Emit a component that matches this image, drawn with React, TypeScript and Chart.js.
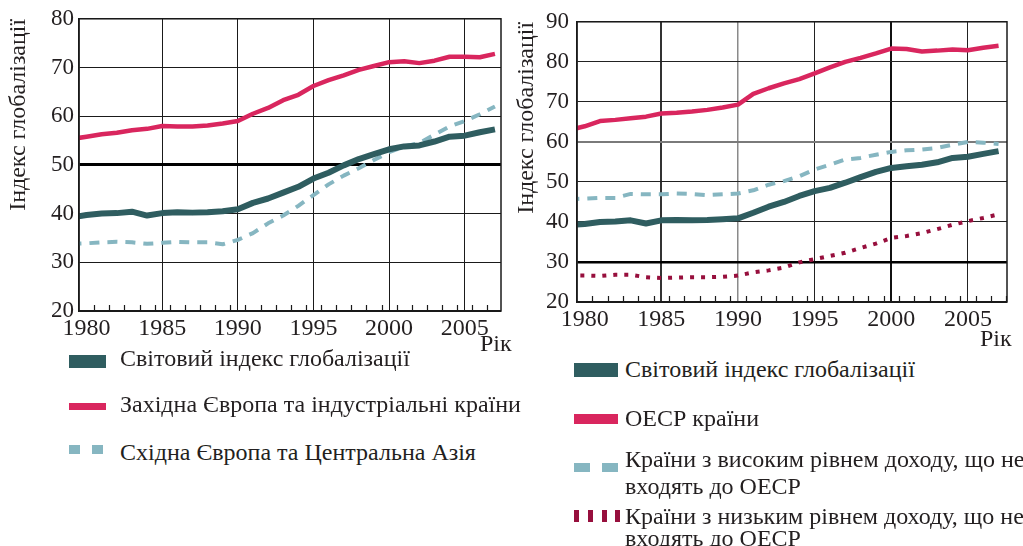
import React, { useEffect, useRef } from 'react';
import { Chart, registerables } from 'chart.js';

Chart.register(...registerables);

// ---------- data ----------
const YEARS = [
  1979, 1980, 1981, 1982, 1983, 1984, 1985, 1986, 1987, 1988, 1989, 1990, 1991, 1992, 1993,
  1994, 1995, 1996, 1997, 1998, 1999, 2000, 2001, 2002, 2003, 2004, 2005, 2006, 2007,
];

// Left panel
const LEFT_WORLD = [
  39.2, 39.7, 40.0, 40.1, 40.4, 39.6, 40.1, 40.3, 40.2, 40.3, 40.5, 40.9, 42.2, 43.1, 44.3,
  45.5, 47.2, 48.4, 49.9, 51.2, 52.2, 53.2, 53.8, 54.0, 54.8, 55.8, 56.0, 56.7, 57.3,
];
const LEFT_WEST = [
  55.3, 55.8, 56.3, 56.6, 57.1, 57.4, 58.0, 57.9, 57.9, 58.1, 58.5, 59.0, 60.5, 61.7, 63.3,
  64.4, 66.2, 67.4, 68.4, 69.5, 70.3, 71.1, 71.3, 70.9, 71.4, 72.2, 72.2, 72.1, 72.8,
];
const LEFT_EAST = [
  33.8, 33.9, 34.1, 34.2, 34.1, 33.8, 34.0, 34.2, 34.1, 34.1, 33.7, 34.6, 36.0, 38.0, 39.6,
  41.6, 43.8, 46.0, 47.8, 49.3, 51.0, 52.6, 53.8, 54.5, 56.2, 57.9, 59.0, 60.4, 62.0,
];

// Right panel
const RIGHT_WORLD = [
  39.2, 39.5, 40.0, 40.1, 40.4, 39.6, 40.4, 40.5, 40.4, 40.5, 40.7, 40.9, 42.3, 43.8, 45.0,
  46.5, 47.7, 48.5, 49.8, 51.2, 52.5, 53.5, 53.9, 54.3, 54.9, 56.0, 56.3, 57.0, 57.7,
];
const RIGHT_OECD = [
  63.0, 63.9, 65.2, 65.5, 65.9, 66.3, 67.1, 67.3, 67.6, 68.0, 68.6, 69.3, 72.0, 73.4, 74.6,
  75.7, 77.1, 78.6, 80.0, 81.0, 82.1, 83.3, 83.2, 82.6, 82.8, 83.1, 82.9, 83.5, 84.0,
];
const RIGHT_HIGH = [
  45.7, 45.8, 46.0, 46.0, 47.0, 46.9, 46.9, 47.1, 47.0, 46.7, 46.9, 47.1, 47.9, 49.3, 50.2,
  51.4, 53.1, 54.3, 55.6, 56.0, 56.8, 57.5, 57.9, 58.1, 58.5, 59.3, 60.0, 59.8, 59.5,
];
const RIGHT_LOW = [
  26.6, 26.6, 26.5, 26.8, 26.8, 26.2, 26.0, 26.1, 26.2, 26.2, 26.3, 26.6, 27.4, 27.9, 28.6,
  29.9, 30.7, 31.5, 32.3, 33.5, 34.6, 36.0, 36.5, 37.2, 38.2, 39.3, 40.2, 41.0, 41.9,
];

const X_TICKS = [1980, 1985, 1990, 1995, 2000, 2005];
const LEFT_Y_TICKS = [20, 30, 40, 50, 60, 70, 80];
const RIGHT_Y_TICKS = [20, 30, 40, 50, 60, 70, 80, 90];

const Y_TITLE = 'Індекс глобалізації';
const X_TITLE = 'Рік';

const LEFT_LABELS = [
  'Світовий індекс глобалізації',
  'Західна Європа та індустріальні країни',
  'Східна Європа та Центральна Азія',
];
const RIGHT_LABELS = [
  'Світовий індекс глобалізації',
  'ОЕСР країни',
  'Країни з високим рівнем доходу, що не|входять до ОЕСР',
  'Країни з низьким рівнем доходу, що не|входять до ОЕСР',
];

// ---------- styles ----------
const TEAL = '#2f5d60';
const RED = '#d9265e';
const LIGHT = '#86b6c1';
const MAROON = '#970f3d';
const INK = '#231f20';
const FONT = "'Liberation Serif', Tinos, 'Times New Roman', Times, 'DejaVu Serif', serif";

type Series = { label: string; data: number[]; color: string; width: number; dash?: number[] };
type GridStyle = { color: string; width: number };

const frameAndMinorTicks = {
  id: 'frameAndMinorTicks',
  afterDatasetsDraw(chart: any) {
    const { ctx, chartArea, scales } = chart;
    const { left, right, top, bottom } = chartArea;
    const x = scales.x;
    ctx.save();
    ctx.strokeStyle = '#1a1a1a';
    ctx.lineWidth = 1.5;
    ctx.strokeRect(left, top, right - left, bottom - top);
    ctx.lineWidth = 1.2;
    ctx.beginPath();
    YEARS.forEach((yr) => {
      const v = yr + 0.5;
      if (v > x.min && v < x.max) {
        const px = Math.round(x.getPixelForValue(v)) + 0.5;
        ctx.moveTo(px, bottom);
        ctx.lineTo(px, bottom - 6);
      }
    });
    ctx.stroke();
    ctx.restore();
  },
};

type PanelProps = {
  left: number;
  width: number;
  height: number;
  series: Series[];
  yTicks: number[];
  xMax: number;
  padTop: number;
  padRight: number;
  yWidth: number;
  xHeight: number;
  yPad: number;
  titlePad: number;
  hGrid: (v: number) => GridStyle;
  vGrid: (v: number) => GridStyle;
};

function Panel(p: PanelProps) {
  const ref = useRef<HTMLCanvasElement>(null);
  useEffect(() => {
    const chart = new Chart(ref.current as HTMLCanvasElement, {
      type: 'line',
      data: {
        datasets: p.series.map((s) => ({
          label: s.label,
          data: YEARS.map((yr, i) => ({ x: yr, y: s.data[i] })),
          borderColor: s.color,
          backgroundColor: s.color,
          borderWidth: s.width,
          borderDash: s.dash || [],
          borderCapStyle: 'butt',
          borderJoinStyle: 'round',
          pointRadius: 0,
          tension: 0,
          clip: 0,
        })),
      },
      options: {
        animation: false,
        responsive: false,
        events: [],
        layout: { padding: { top: p.padTop, right: p.padRight, left: 0, bottom: 0 } },
        plugins: { legend: { display: false }, tooltip: { enabled: false } },
        scales: {
          x: {
            type: 'linear',
            min: 1979.5,
            max: p.xMax,
            afterBuildTicks: (s: any) => {
              s.ticks = X_TICKS.map((v) => ({ value: v }));
            },
            afterFit: (s: any) => {
              s.height = p.xHeight;
            },
            ticks: {
              autoSkip: false,
              maxRotation: 0,
              padding: 3,
              color: INK,
              font: { family: FONT, size: 24 },
              callback: (v: any) => String(v),
            },
            grid: {
              drawTicks: false,
              color: (c: any) => p.vGrid(c.tick ? c.tick.value : 0).color,
              lineWidth: (c: any) => p.vGrid(c.tick ? c.tick.value : 0).width,
            },
            border: { display: true, color: '#1a1a1a', width: 1.5 },
          },
          y: {
            min: p.yTicks[0],
            max: p.yTicks[p.yTicks.length - 1],
            afterBuildTicks: (s: any) => {
              s.ticks = p.yTicks.map((v) => ({ value: v }));
            },
            afterFit: (s: any) => {
              s.width = p.yWidth;
            },
            ticks: {
              padding: p.yPad,
              color: INK,
              font: { family: FONT, size: 23 },
            },
            grid: {
              drawTicks: false,
              color: (c: any) => p.hGrid(c.tick ? c.tick.value : 0).color,
              lineWidth: (c: any) => p.hGrid(c.tick ? c.tick.value : 0).width,
            },
            border: { display: true, color: '#1a1a1a', width: 1.5 },
            title: {
              display: true,
              text: Y_TITLE,
              align: 'end',
              color: INK,
              font: { family: FONT, size: 24 },
              padding: { top: p.titlePad, bottom: 0 },
            },
          },
        },
      },
      plugins: [frameAndMinorTicks],
    } as any);
    return () => chart.destroy();
  }, []);
  return (
    <canvas
      ref={ref}
      width={p.width}
      height={p.height}
      style={{ position: 'absolute', left: p.left, top: 0, width: p.width, height: p.height, display: 'block' }}
    />
  );
}

const textStyle: React.CSSProperties = {
  position: 'absolute',
  fontFamily: FONT,
  fontSize: 24,
  lineHeight: '24px',
  color: INK,
  whiteSpace: 'nowrap',
};

function Box({ x, y, w, h, c }: { x: number; y: number; w: number; h: number; c: string }) {
  return <div style={{ position: 'absolute', left: x, top: y, width: w, height: h, background: c }} />;
}

function Label({ x, y, text, lh = 24 }: { x: number; y: number; text: string; lh?: number }) {
  const parts = text.split('|');
  return (
    <div style={{ ...textStyle, left: x, top: y, lineHeight: lh + 'px' }}>
      {parts.map((t, i) => (
        <div key={i}>{t}</div>
      ))}
    </div>
  );
}

export default function App() {
  useEffect(() => {
    document.body.style.margin = '0';
  }, []);

  const leftSeries: Series[] = [
    { label: LEFT_LABELS[0], data: LEFT_WORLD, color: TEAL, width: 6 },
    { label: LEFT_LABELS[1], data: LEFT_WEST, color: RED, width: 4.5 },
    { label: LEFT_LABELS[2], data: LEFT_EAST, color: LIGHT, width: 4, dash: [10, 8] },
  ];
  const rightSeries: Series[] = [
    { label: RIGHT_LABELS[0], data: RIGHT_WORLD, color: TEAL, width: 6 },
    { label: RIGHT_LABELS[1], data: RIGHT_OECD, color: RED, width: 4.5 },
    { label: RIGHT_LABELS[2], data: RIGHT_HIGH, color: LIGHT, width: 4, dash: [10, 8] },
    { label: RIGHT_LABELS[3], data: RIGHT_LOW, color: MAROON, width: 4, dash: [4, 7] },
  ];

  return (
    <div style={{ position: 'absolute', left: 0, top: 0, width: 1023, height: 546, background: '#fff', overflow: 'hidden' }}>
      <Panel
        left={0}
        width={520}
        height={345}
        series={leftSeries}
        yTicks={LEFT_Y_TICKS}
        xMax={2007.4}
        padTop={15}
        padRight={19}
        yWidth={79}
        xHeight={34}
        yPad={5}
        titlePad={4}
        hGrid={(v) => (v === 50 ? { color: '#000', width: 3 } : { color: '#1a1a1a', width: 1 })}
        vGrid={(v) => (v === 1980 ? { color: 'rgba(0,0,0,0)', width: 0 } : { color: '#1a1a1a', width: 1 })}
      />
      <Panel
        left={505}
        width={518}
        height={345}
        series={rightSeries}
        yTicks={RIGHT_Y_TICKS}
        xMax={2007.55}
        padTop={20}
        padRight={16}
        yWidth={72}
        xHeight={43}
        yPad={8}
        titlePad={7.6}
        hGrid={(v) =>
          v === 30 ? { color: '#000', width: 2.5 } : v === 60 ? { color: '#7a7a7a', width: 2 } : { color: '#222', width: 1 }
        }
        vGrid={(v) =>
          v === 1980
            ? { color: 'rgba(0,0,0,0)', width: 0 }
            : v === 1985
            ? { color: '#333', width: 2 }
            : v === 1990
            ? { color: '#8a8a8a', width: 1.5 }
            : v === 2000
            ? { color: '#111', width: 2 }
            : { color: '#222', width: 1 }
        }
      />

      <div style={{ ...textStyle, left: 480, top: 331 }}>{X_TITLE}</div>
      <div style={{ ...textStyle, left: 980, top: 326 }}>{X_TITLE}</div>

      {/* left legend */}
      <Box x={69} y={355} w={37} h={13} c={TEAL} />
      <Label x={120} y={346} text={LEFT_LABELS[0]} />
      <Box x={69} y={403} w={37} h={7} c={RED} />
      <Label x={120} y={392} text={LEFT_LABELS[1]} />
      <Box x={69} y={445} w={11} h={9} c={LIGHT} />
      <Box x={92} y={445} w={11} h={9} c={LIGHT} />
      <Label x={120} y={440} text={LEFT_LABELS[2]} />

      {/* right legend */}
      <Box x={574} y={363} w={44} h={14} c={TEAL} />
      <Label x={625} y={357} text={RIGHT_LABELS[0]} />
      <Box x={574} y={414} w={44} h={10} c={RED} />
      <Label x={625} y={406} text={RIGHT_LABELS[1]} />
      <Box x={574} y={463} w={16} h={9} c={LIGHT} />
      <Box x={602} y={463} w={16} h={9} c={LIGHT} />
      <Label x={625} y={446} lh={27} text={RIGHT_LABELS[2]} />
      <Box x={574} y={510} w={5} h={12} c={MAROON} />
      <Box x={588} y={510} w={5} h={12} c={MAROON} />
      <Box x={602} y={510} w={5} h={12} c={MAROON} />
      <Box x={615} y={510} w={5} h={12} c={MAROON} />
      <Label x={625} y={505} lh={22} text={RIGHT_LABELS[3]} />
    </div>
  );
}
